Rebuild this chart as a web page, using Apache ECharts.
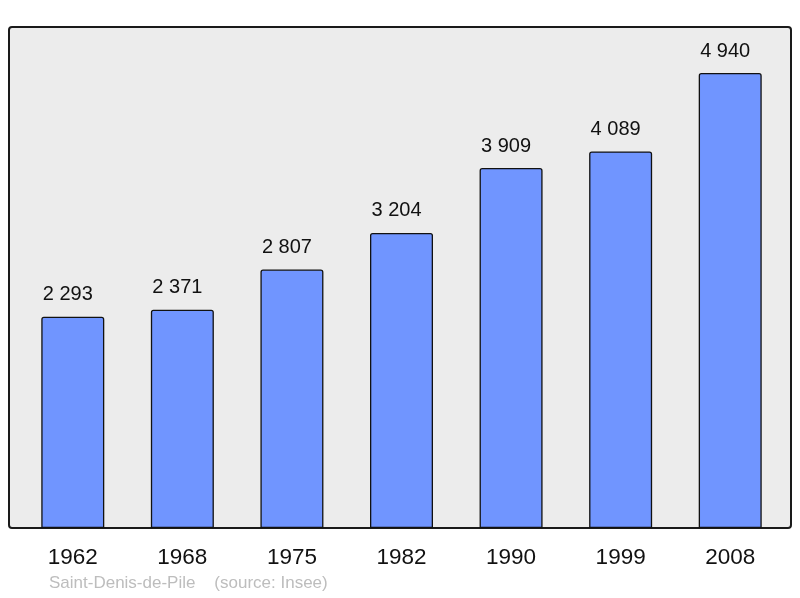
<!DOCTYPE html>
<html>
<head>
<meta charset="utf-8">
<script src="https://cdn.jsdelivr.net/npm/echarts@6/dist/echarts.min.js"></script>
<style>
  html, body { margin: 0; padding: 0; background: #fff; }
  #chart { width: 800px; height: 598px; }
</style>
</head>
<body>
<div id="chart"></div>
<script>
// population by census year
const years = ['1962', '1968', '1975', '1982', '1990', '1999', '2008'];
const population = [2293, 2371, 2807, 3204, 3909, 4089, 4940];

const fmt = v => String(v).replace(/\B(?=(\d{3})+(?!\d))/g, ' ');

const myChart = echarts.init(document.getElementById('chart'));
const option = {
  backgroundColor: '#fff',
  textStyle: { fontFamily: 'Liberation Sans, Arial, sans-serif' },
  graphic: [
    {
      type: 'rect',
      z: 0,
      silent: true,
      shape: { x: 9, y: 27, width: 782, height: 501, r: 3 },
      style: { fill: '#ececec', stroke: '#1a1a1a', lineWidth: 2 }
    },
    {
      type: 'text',
      left: 49,
      top: 575,
      style: {
        text: 'Saint-Denis-de-Pile    (source: Insee)',
        fill: '#bdbdbd',
        font: '17px "Liberation Sans", Arial, sans-serif'
      }
    }
  ],
  grid: { left: 18, right: 15, top: 27, bottom: 70 },
  xAxis: {
    type: 'category',
    data: years,
    axisLine: { show: false },
    axisTick: { show: false },
    axisLabel: { color: '#111', fontSize: 22.5, margin: 18 }
  },
  yAxis: {
    type: 'value',
    min: 0,
    max: 5440,
    show: false
  },
  series: [
    {
      type: 'bar',
      data: population,
      barWidth: 63,
      itemStyle: {
        color: '#7095ff',
        borderColor: '#111',
        borderWidth: 1.3,
        borderRadius: [2, 2, 0, 0]
      },
      label: {
        show: true,
        position: 'top',
        distance: 12,
        offset: [-5, 0],
        color: '#111',
        fontSize: 20,
        formatter: p => fmt(p.value)
      }
    }
  ]
};
myChart.setOption(option);
</script>
</body>
</html>
